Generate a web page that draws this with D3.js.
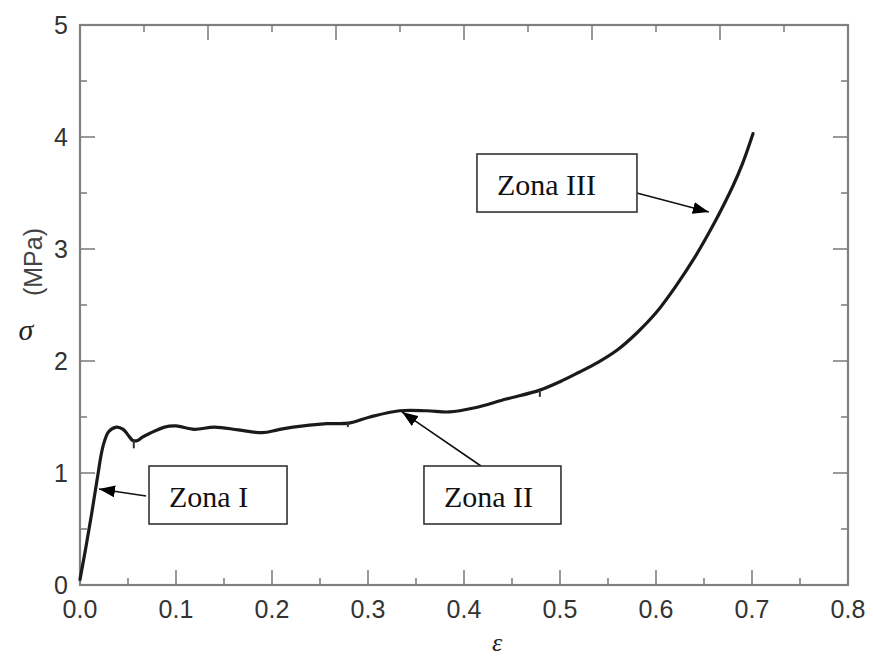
<!DOCTYPE html>
<html>
<head>
<meta charset="utf-8">
<script src="https://cdn.jsdelivr.net/npm/d3@7"></script>
<style>
  body { margin: 0; background: #fff; }
  svg { display: block; }
</style>
</head>
<body>
<div id="chart"></div>
<script>
// datos de la curva tension-deformacion
const strain = [0, 0.006, 0.012, 0.018, 0.024, 0.03, 0.038, 0.045, 0.05, 0.055, 0.06, 0.065, 0.073, 0.088, 0.1, 0.119, 0.14, 0.165, 0.19, 0.206, 0.222, 0.257, 0.28, 0.302, 0.333, 0.361, 0.385, 0.41, 0.444, 0.479, 0.5, 0.52, 0.54, 0.56, 0.58, 0.6, 0.62, 0.64, 0.66, 0.68, 0.69, 0.701]
const stress = [0.05, 0.33, 0.63, 0.95, 1.24, 1.37, 1.41, 1.39, 1.34, 1.29, 1.29, 1.32, 1.355, 1.41, 1.42, 1.39, 1.41, 1.385, 1.36, 1.385, 1.41, 1.44, 1.445, 1.5, 1.556, 1.556, 1.545, 1.58, 1.66, 1.74, 1.815, 1.9, 1.99, 2.1, 2.25, 2.43, 2.66, 2.92, 3.22, 3.56, 3.76, 4.03]

// pequeños picos hacia abajo en la curva
const spikeX = [0.056, 0.279, 0.479]
const spikeTop = [1.29, 1.445, 1.74]
const spikeBottom = [1.22, 1.41, 1.68]

const xTicks = [0, 0.1, 0.2, 0.3, 0.4, 0.5, 0.6, 0.7, 0.8]
const xTickLabels = ["0.0", "0.1", "0.2", "0.3", "0.4", "0.5", "0.6", "0.7", "0.8"]
const yTicks = [0, 1, 2, 3, 4, 5]
const topTicks = d3.range(1, 12) // eje superior: 12 divisiones

// anotaciones: texto, caja (esquina sup. izq. en datos), inicio y punta de la flecha
const zoneLabels = ["Zona I", "Zona II", "Zona III"]
const boxX = [0.0719, 0.3583, 0.4135]
const boxY = [1.0625, 1.0625, 3.848]
const boxW = [138, 137, 160]
const arrowFrom = [[0.0688, 0.795], [0.4177, 1.0625], [0.580, 3.50]]
const arrowTo = [[0.0198, 0.857], [0.3354, 1.545], [0.655, 3.33]]

const width = 873
const height = 660
const margin = { top: 25, bottom: 75, left: 80, right: 25 }

const svg = d3.select("div#chart").append("svg").attr("width", width).attr("height", height)

const x = d3.scaleLinear().domain([0, 0.8]).range([margin.left, width - margin.right])
const y = d3.scaleLinear().domain([0, 5]).range([height - margin.bottom, margin.top])
const xTop = d3.scaleLinear().domain([0, 12]).range([margin.left, width - margin.right])

const axisColor = "#808080"
const labelFont = "'Liberation Sans', Arial, Helvetica, sans-serif"
const serif = "'Liberation Serif', 'Times New Roman', serif"

// ticks hacia dentro
const xMinor = d3.range(0.05, 0.8, 0.1)
const yMinor = d3.range(0.5, 5, 1)
const tickG = svg.append("g").attr("stroke", axisColor).attr("stroke-width", 1.6)

xTicks.slice(1, -1).forEach(t => {
    tickG.append("line").attr("x1", x(t)).attr("x2", x(t)).attr("y1", y(0)).attr("y2", y(0) - 15)
})
xMinor.forEach(t => {
    tickG.append("line").attr("x1", x(t)).attr("x2", x(t)).attr("y1", y(0)).attr("y2", y(0) - 7)
})
yTicks.slice(1, -1).forEach(t => {
    tickG.append("line").attr("x1", x(0)).attr("x2", x(0) + 15).attr("y1", y(t)).attr("y2", y(t))
    tickG.append("line").attr("x1", x(0.8)).attr("x2", x(0.8) - 15).attr("y1", y(t)).attr("y2", y(t))
})
yMinor.forEach(t => {
    tickG.append("line").attr("x1", x(0)).attr("x2", x(0) + 7).attr("y1", y(t)).attr("y2", y(t))
    tickG.append("line").attr("x1", x(0.8)).attr("x2", x(0.8) - 7).attr("y1", y(t)).attr("y2", y(t))
})
topTicks.forEach(t => {
    const len = t % 2 === 0 ? 15 : 7
    tickG.append("line").attr("x1", xTop(t)).attr("x2", xTop(t)).attr("y1", y(5)).attr("y2", y(5) + len)
})

// marco
svg.append("rect")
    .attr("x", x(0)).attr("y", y(5))
    .attr("width", x(0.8) - x(0)).attr("height", y(0) - y(5))
    .attr("fill", "none").attr("stroke", axisColor).attr("stroke-width", 2.2)

// etiquetas de los ejes
svg.append("g").selectAll("text").data(xTicks).join("text")
    .attr("x", d => x(d)).attr("y", y(0) + 33)
    .attr("text-anchor", "middle")
    .style("font-family", labelFont).style("font-size", "25px").attr("fill", "#333")
    .text((d, i) => xTickLabels[i])

svg.append("g").selectAll("text").data(yTicks).join("text")
    .attr("x", x(0) - 12).attr("y", d => y(d))
    .attr("dy", "0.36em")
    .attr("text-anchor", "end")
    .style("font-family", labelFont).style("font-size", "25px").attr("fill", "#333")
    .text(d => d)

svg.append("text")
    .attr("x", 26).attr("y", 340)
    .attr("text-anchor", "middle")
    .style("font-family", serif).style("font-style", "italic").style("font-size", "30px")
    .attr("fill", "#222")
    .text("σ")

svg.append("text")
    .attr("transform", "translate(42,262) rotate(-90)")
    .attr("text-anchor", "middle")
    .style("font-family", labelFont).style("font-size", "25px").attr("fill", "#444")
    .text("(MPa)")

svg.append("text")
    .attr("x", 497).attr("y", 651)
    .attr("text-anchor", "middle")
    .style("font-family", serif).style("font-style", "italic").style("font-size", "26px")
    .attr("fill", "#222")
    .text("ε")

// curva
const curveData = strain.map((d, i) => [d, stress[i]])
const line = d3.line().x(d => x(d[0])).y(d => y(d[1])).curve(d3.curveCatmullRom.alpha(0.5))

svg.append("path")
    .datum(curveData)
    .attr("d", line)
    .attr("fill", "none").attr("stroke", "#1a1a1a").attr("stroke-width", 3.2)
    .attr("stroke-linejoin", "round").attr("stroke-linecap", "round")

svg.append("g").selectAll("line").data(spikeX).join("line")
    .attr("x1", d => x(d)).attr("x2", d => x(d))
    .attr("y1", (d, i) => y(spikeTop[i])).attr("y2", (d, i) => y(spikeBottom[i]))
    .attr("stroke", "#333").attr("stroke-width", 2)

// flechas y cajas
svg.append("defs").append("marker")
    .attr("id", "head")
    .attr("viewBox", "0 0 16 12")
    .attr("refX", 16).attr("refY", 6)
    .attr("markerWidth", 16).attr("markerHeight", 12)
    .attr("markerUnits", "userSpaceOnUse")
    .attr("orient", "auto")
    .append("path").attr("d", "M0,0 L16,6 L0,12 Z").attr("fill", "#000")

const annG = svg.append("g")
zoneLabels.forEach((lab, i) => {
    annG.append("line")
        .attr("x1", x(arrowFrom[i][0])).attr("y1", y(arrowFrom[i][1]))
        .attr("x2", x(arrowTo[i][0])).attr("y2", y(arrowTo[i][1]))
        .attr("stroke", "#111").attr("stroke-width", 1.6)
        .attr("marker-end", "url(#head)")
    annG.append("rect")
        .attr("x", x(boxX[i])).attr("y", y(boxY[i]))
        .attr("width", boxW[i]).attr("height", 58)
        .attr("fill", "#fff").attr("stroke", "#333").attr("stroke-width", 1.6)
    annG.append("text")
        .attr("x", x(boxX[i]) + 20).attr("y", y(boxY[i]) + 41)
        .style("font-family", serif).style("font-size", "30px").attr("fill", "#111")
        .text(lab)
})
</script>
</body>
</html>
